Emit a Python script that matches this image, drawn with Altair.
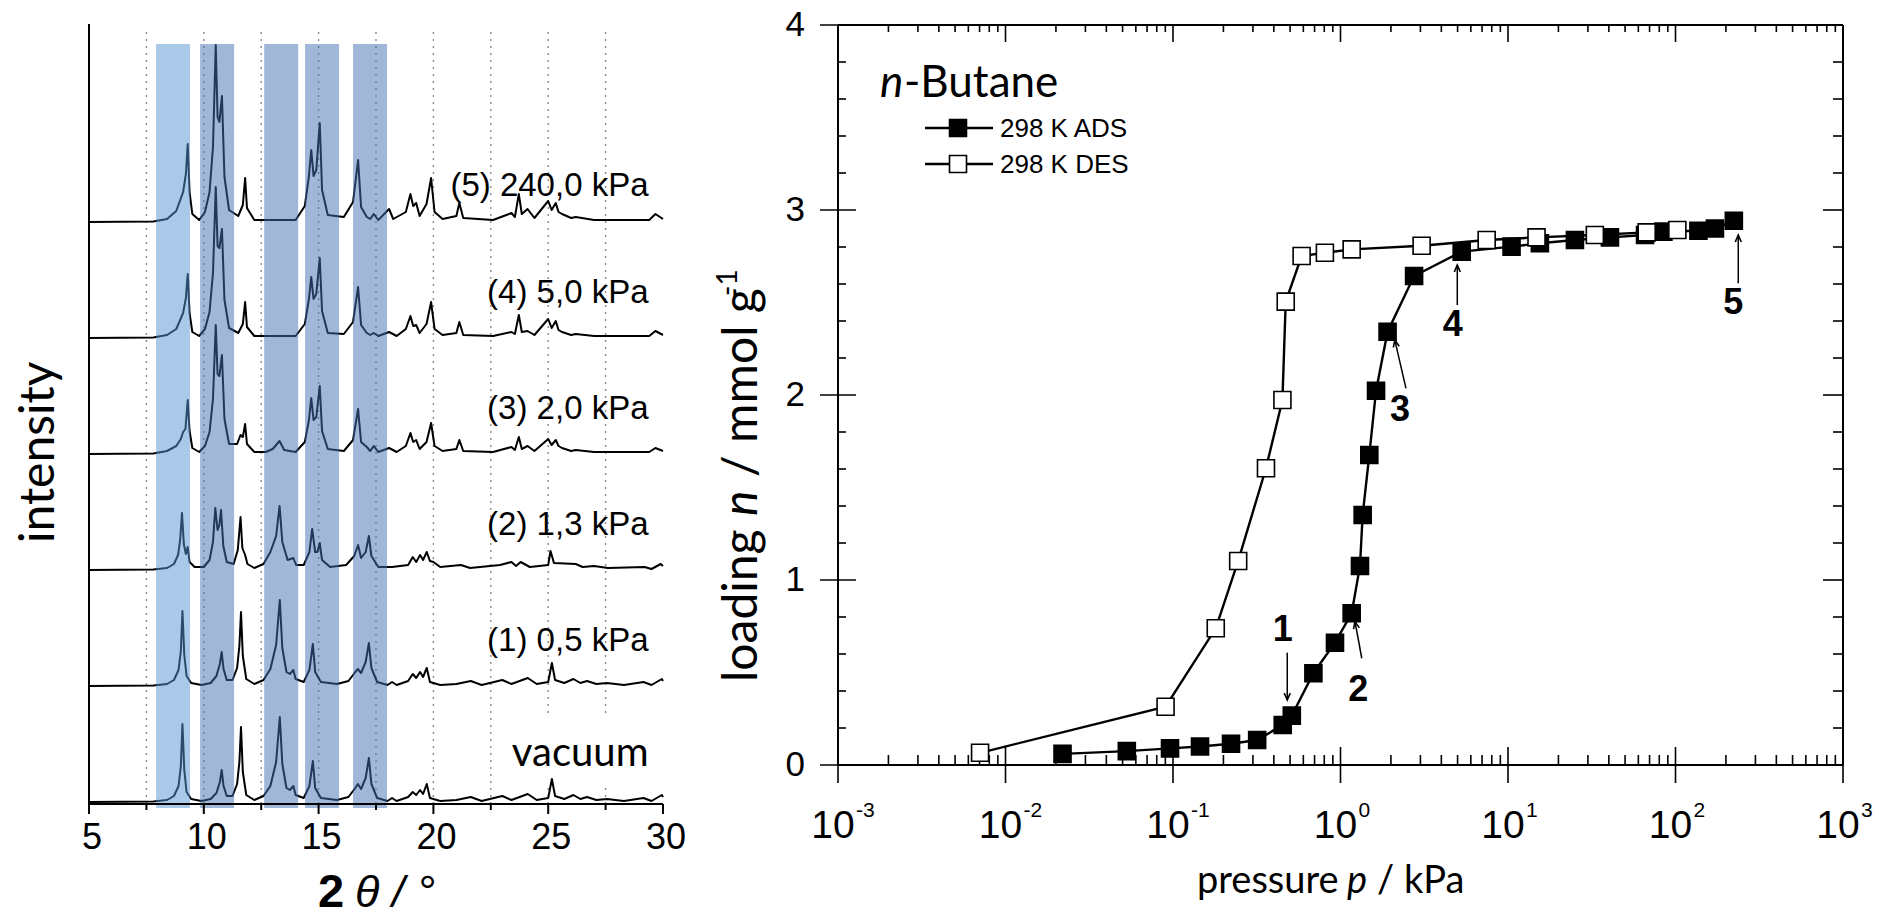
import altair as alt
import pandas as pd

# ================= Left panel: XRD patterns =================
PATTERN_NAMES = ["vacuum", "(1) 0,5 kPa", "(2) 1,3 kPa", "(3) 2,0 kPa", "(4) 5,0 kPa", "(5) 240,0 kPa"]
PATTERN_OFFSETS = [2, 118, 234, 350, 466, 582]

XRD_VACUUM = [(5.0, 0), (7.8, 0.5), (8.4, 2), (8.7, 6), (8.9, 16), (9.0, 36), (9.07, 78), (9.15, 32), (9.25, 10),
              (9.45, 3), (9.9, 1), (10.3, 3), (10.55, 9), (10.7, 20), (10.78, 32), (10.86, 16), (11.0, 6),
              (11.25, 6), (11.45, 18), (11.55, 40), (11.62, 75), (11.7, 30), (11.85, 7), (12.2, 2), (12.6, 6),
              (12.9, 16), (13.15, 40), (13.31, 85), (13.42, 38), (13.6, 14), (13.75, 12), (13.9, 16), (14.0, 7),
              (14.35, 4), (14.6, 16), (14.75, 41), (14.85, 14), (15.1, 4), (15.8, 2), (16.3, 5), (16.6, 14),
              (16.71, 18), (16.85, 13), (17.05, 24), (17.19, 44), (17.3, 18), (17.55, 4), (18.0, 1), (18.2, 4),
              (18.4, 1), (18.9, 5), (19.1, 10), (19.25, 7), (19.42, 12), (19.55, 8), (19.71, 18), (19.85, 4),
              (20.3, 1), (21.0, 2), (21.63, 5), (22.1, 1), (23.0, 6), (23.4, 2), (24.11, 8), (24.5, 2), (25.0, 4),
              (25.16, 23), (25.3, 6), (25.7, 3), (26.1, 7), (26.4, 3), (26.69, 5), (27.1, 2), (27.56, 3),
              (28.3, 1), (29.15, 4), (29.5, 1), (29.95, 7), (30.0, 5)]

XRD_P1 = [(5.0, 0), (7.8, 0.5), (8.4, 2), (8.7, 6), (8.9, 16), (9.0, 35), (9.07, 75), (9.15, 31), (9.25, 10),
          (9.45, 3), (9.9, 1), (10.3, 3), (10.55, 10), (10.7, 22), (10.78, 34), (10.86, 17), (11.0, 6),
          (11.25, 6), (11.45, 18), (11.55, 40), (11.62, 74), (11.7, 30), (11.85, 7), (12.2, 2), (12.6, 6),
          (12.9, 17), (13.15, 41), (13.31, 86), (13.42, 38), (13.6, 14), (13.75, 12), (13.9, 16), (14.0, 7),
          (14.35, 4), (14.6, 16), (14.75, 42), (14.85, 14), (15.1, 4), (15.8, 2), (16.3, 5), (16.6, 14),
          (16.71, 17), (16.85, 13), (17.05, 24), (17.19, 43), (17.3, 18), (17.55, 4), (18.0, 1), (18.2, 4),
          (18.4, 1), (18.9, 5), (19.1, 12), (19.25, 8), (19.42, 14), (19.55, 9), (19.71, 18), (19.85, 4),
          (20.3, 1), (21.0, 2), (21.63, 5), (22.1, 1), (23.0, 6), (23.4, 2), (24.11, 8), (24.5, 2), (25.0, 4),
          (25.16, 23), (25.3, 6), (25.7, 3), (26.1, 7), (26.4, 3), (26.69, 5), (27.1, 2), (27.56, 3),
          (28.3, 1), (29.15, 4), (29.5, 1), (29.95, 7), (30.0, 5)]

XRD_P2 = [(5.0, 0), (7.8, 0.5), (8.4, 2), (8.7, 6), (8.88, 15), (8.97, 30), (9.05, 57), (9.13, 26), (9.22, 16),
          (9.3, 23), (9.38, 8), (9.6, 3), (10.0, 3), (10.25, 10), (10.4, 28), (10.5, 62), (10.6, 40), (10.68, 45),
          (10.75, 60), (10.85, 24), (11.0, 8), (11.3, 6), (11.48, 20), (11.6, 53), (11.68, 22), (11.8, 15),
          (11.9, 6), (12.2, 2), (12.6, 6), (12.9, 18), (13.15, 34), (13.3, 64), (13.42, 28), (13.65, 10),
          (13.9, 12), (14.02, 5), (14.35, 5), (14.6, 18), (14.72, 41), (14.85, 18), (14.95, 18), (15.05, 27),
          (15.15, 10), (15.5, 3), (16.2, 5), (16.55, 14), (16.72, 25), (16.85, 12), (17.05, 18), (17.19, 34),
          (17.3, 14), (17.6, 3), (18.2, 3), (18.9, 5), (19.1, 13), (19.25, 8), (19.42, 15), (19.55, 10),
          (19.71, 18), (19.85, 9), (20.0, 8), (20.3, 3), (21.2, 5), (21.6, 2), (22.9, 5), (23.4, 8), (23.6, 4),
          (23.8, 8), (24.2, 3), (25.0, 5), (25.1, 19), (25.25, 7), (26.2, 6), (26.5, 3), (27.0, 4), (27.6, 2),
          (29.2, 3), (29.5, 1), (29.9, 6), (30.0, 4)]

XRD_P3 = [(5.0, 0), (7.8, 0.5), (8.4, 3), (8.8, 8), (9.0, 15), (9.1, 22), (9.2, 25), (9.3, 54), (9.38, 23),
          (9.5, 6), (9.8, 2), (10.05, 8), (10.25, 22), (10.4, 55), (10.52, 129), (10.6, 80), (10.68, 78),
          (10.79, 99), (10.9, 35), (11.1, 10), (11.45, 10), (11.6, 19), (11.7, 17), (11.8, 30), (11.88, 10),
          (12.2, 2), (12.7, 2), (13.0, 5), (13.3, 13), (13.5, 4), (14.0, 2), (14.4, 12), (14.58, 34),
          (14.68, 56), (14.78, 34), (14.9, 37), (15.05, 68), (15.15, 23), (15.4, 5), (16.1, 3), (16.5, 14),
          (16.72, 45), (16.85, 12), (17.1, 7), (17.25, 3), (17.4, 8), (17.6, 2), (18.07, 6), (18.4, 2),
          (18.8, 8), (19.0, 21), (19.12, 12), (19.25, 14), (19.4, 5), (19.7, 12), (19.9, 31), (20.05, 8),
          (20.4, 3), (21.0, 5), (21.13, 14), (21.3, 3), (22.6, 2), (23.4, 7), (23.55, 4), (23.72, 17),
          (23.85, 5), (24.1, 8), (24.4, 3), (25.0, 15), (25.15, 9), (25.33, 14), (25.45, 8), (25.6, 6),
          (26.0, 3), (26.2, 4), (27.0, 2), (28.5, 2), (29.4, 2), (29.67, 6), (30.0, 3)]

XRD_P4 = [(5.0, 0), (7.8, 0.5), (8.4, 3), (8.8, 9), (9.1, 25), (9.22, 40), (9.3, 64), (9.38, 25), (9.5, 6),
          (9.8, 2), (10.05, 9), (10.25, 26), (10.4, 65), (10.52, 151), (10.6, 92), (10.68, 90), (10.79, 109),
          (10.9, 38), (11.1, 10), (11.5, 5), (11.7, 14), (11.8, 36), (11.88, 11), (12.2, 2), (13.0, 2),
          (14.0, 2), (14.4, 14), (14.58, 39), (14.68, 61), (14.78, 39), (14.9, 44), (15.05, 80), (15.15, 27),
          (15.4, 5), (16.1, 4), (16.5, 16), (16.72, 51), (16.85, 13), (17.1, 5), (17.25, 3), (17.4, 5),
          (17.6, 2), (18.07, 6), (18.4, 2), (18.8, 9), (19.0, 22), (19.12, 12), (19.25, 13), (19.4, 5),
          (19.7, 14), (19.9, 36), (20.05, 9), (20.4, 3), (21.0, 5), (21.13, 16), (21.3, 3), (22.6, 2),
          (23.4, 6), (23.55, 4), (23.72, 23), (23.85, 6), (24.1, 7), (24.4, 3), (25.0, 19), (25.15, 10),
          (25.33, 17), (25.45, 8), (25.6, 6), (26.0, 3), (26.2, 4), (27.0, 2), (28.5, 2), (29.4, 2),
          (29.67, 7), (30.0, 3)]

XRD_P5 = [(5.0, 0), (7.8, 0.5), (8.4, 3), (8.8, 11), (9.1, 30), (9.22, 48), (9.3, 78), (9.38, 30), (9.5, 8),
          (9.8, 2), (10.05, 10), (10.25, 30), (10.4, 75), (10.52, 177), (10.6, 105), (10.68, 100),
          (10.79, 126), (10.9, 45), (11.1, 12), (11.5, 6), (11.7, 17), (11.8, 44), (11.88, 14), (12.2, 2),
          (13.0, 2), (14.0, 2), (14.4, 16), (14.58, 46), (14.68, 72), (14.78, 46), (14.9, 52), (15.05, 99),
          (15.15, 32), (15.4, 7), (16.1, 5), (16.5, 20), (16.72, 62), (16.85, 15), (17.1, 5), (17.25, 3),
          (17.4, 8), (17.6, 2), (18.07, 13), (18.25, 3), (18.8, 10), (19.0, 28), (19.12, 16), (19.25, 19),
          (19.4, 6), (19.7, 18), (19.9, 44), (20.05, 10), (20.4, 3), (21.0, 6), (21.13, 19), (21.3, 4),
          (22.6, 2), (23.4, 9), (23.55, 5), (23.72, 28), (23.85, 8), (24.1, 13), (24.4, 4), (25.0, 21),
          (25.15, 12), (25.33, 19), (25.45, 10), (25.6, 8), (26.0, 4), (26.2, 5), (27.0, 2), (28.5, 2),
          (29.4, 2), (29.67, 8), (30.0, 3)]

XRD_PATTERNS = [XRD_VACUUM, XRD_P1, XRD_P2, XRD_P3, XRD_P4, XRD_P5]

BAND_START = [7.92, 9.84, 12.63, 14.41, 16.50]
BAND_END = [9.40, 11.32, 14.11, 15.89, 17.98]
BAND_TONE = ["light", "dark", "dark", "dark", "dark"]
GRID_2THETA = [7.5, 10, 12.5, 15, 17.5, 20, 22.5, 25, 27.5]
X_MAJOR_2THETA = [5, 10, 15, 20, 25, 30]
X_MINOR_2THETA = [7.5, 12.5, 17.5, 22.5, 27.5]
X_RANGE_2THETA = [5, 30]

# ================= Right panel: n-butane isotherm =================
ADS_P = [0.0219, 0.053, 0.096, 0.145, 0.222, 0.318, 0.452, 0.512, 0.689, 0.927, 1.166, 1.307, 1.356, 1.486,
         1.63, 1.91, 2.75, 5.29, 10.5, 15.5, 25.1, 40.6, 65.8, 84.7, 137, 172, 223]
ADS_N = [0.06, 0.075, 0.09, 0.10, 0.115, 0.135, 0.216, 0.267, 0.496, 0.661, 0.82, 1.076, 1.351, 1.676,
         2.023, 2.342, 2.643, 2.775, 2.802, 2.82, 2.838, 2.852, 2.865, 2.883, 2.888, 2.90, 2.942]
DES_P = [0.00705, 0.0903, 0.180, 0.245, 0.359, 0.450, 0.471, 0.586, 0.807, 1.166, 3.05, 7.46, 14.8, 33.0,
         67.3, 102.6]
DES_N = [0.066, 0.315, 0.739, 1.103, 1.604, 1.973, 2.505, 2.751, 2.769, 2.787, 2.807, 2.838, 2.852, 2.865,
         2.879, 2.892]

ARROW_LABEL = ["1", "2", "3", "4", "5"]
ARROW_TAIL_P = [0.481, 1.34, 2.46, 4.98, 237]
ARROW_TAIL_N = [0.607, 0.577, 2.036, 2.486, 2.604]
ARROW_HEAD_P = [0.481, 1.22, 2.11, 4.98, 237]
ARROW_HEAD_N = [0.351, 0.775, 2.297, 2.703, 2.865]
NUMBER_P = [0.452, 1.276, 2.265, 4.68, 221]
NUMBER_N = [0.73, 0.405, 1.92, 2.38, 2.50]

DECADES = [0.001, 0.01, 0.1, 1, 10, 100, 1000]
DECADE_EXP = ["-3", "-2", "-1", "0", "1", "2", "3"]
LOG_MINOR = [k * 10.0 ** e for e in range(-3, 3) for k in range(2, 10)]
Y_MAJOR = [0, 1, 2, 3, 4]
Y_MAJOR_LABELS = ["0", "1", "2", "3", "4"]
Y_MINOR = [0.2, 0.4, 0.6, 0.8, 1.2, 1.4, 1.6, 1.8, 2.2, 2.4, 2.6, 2.8, 3.2, 3.4, 3.6, 3.8]

# ---------------- tables ----------------
xrd_rows = []
for name, off, pts in zip(PATTERN_NAMES, PATTERN_OFFSETS, XRD_PATTERNS):
    for t, i in pts:
        xrd_rows.append({"pattern": name, "tt": t, "y": i + off})
xrd_df = pd.DataFrame(xrd_rows)
band_df = pd.DataFrame({"b0": BAND_START, "b1": BAND_END, "tone": BAND_TONE})
lab_df = pd.DataFrame({"pattern": PATTERN_NAMES, "offset": PATTERN_OFFSETS})
xmaj_df = pd.DataFrame({"m": X_MAJOR_2THETA, "lab": [str(v) for v in X_MAJOR_2THETA]})
xrng_df = pd.DataFrame({"a": [X_RANGE_2THETA[0]], "b": [X_RANGE_2THETA[1]]})

iso_df = pd.concat([
    pd.DataFrame({"series": "ADS", "p": ADS_P, "n": ADS_N}),
    pd.DataFrame({"series": "DES", "p": DES_P, "n": DES_N}),
], ignore_index=True)
arrow_df = pd.DataFrame({"label": ARROW_LABEL, "tp": ARROW_TAIL_P, "tn": ARROW_TAIL_N,
                         "hp": ARROW_HEAD_P, "hn": ARROW_HEAD_N, "np": NUMBER_P, "nn": NUMBER_N})
dec_df = pd.DataFrame({"p": DECADES, "exp": DECADE_EXP})
lmin_df = pd.DataFrame({"p": LOG_MINOR})
ymaj_df = pd.DataFrame({"n": Y_MAJOR, "lab": Y_MAJOR_LABELS})
ymin_df = pd.DataFrame({"n": Y_MINOR})
frame_df = pd.DataFrame({"p0": [0.001], "p1": [1000], "n0": [0], "n1": [4]})


def txt(s):
    return alt.Chart(pd.DataFrame({"t": [s]}))


# ---------------- left group ----------------
xL = alt.Scale(domain=[5, 30], range=[0, 574], nice=False, zero=False)
yL = alt.Scale(domain=[0, 780], range=[780, 0], nice=False, zero=False)

grid = alt.Chart(pd.DataFrame({"g": GRID_2THETA})).mark_rule(
    color="#8a8a8a", strokeWidth=1.4, strokeDash=[2, 5]).encode(
    x=alt.X("g:Q", scale=xL, axis=None), y=alt.value(8), y2=alt.value(780))

# white label box behind "vacuum" (it interrupts the dotted guide lines)
vac_box = alt.Chart(lab_df).transform_filter("datum.pattern == 'vacuum'").transform_calculate(
    bx0="23.6", bx1="29.4", by0="datum.offset + 17", by1="datum.offset + 84").mark_rect(color="white").encode(
    x=alt.X("bx0:Q", scale=xL, axis=None), x2="bx1:Q", y=alt.Y("by0:Q", scale=yL, axis=None), y2="by1:Q")

xrd_lines = alt.Chart(xrd_df).mark_line(color="black", strokeWidth=2.0, strokeJoin="round").encode(
    x=alt.X("tt:Q", scale=xL, axis=None),
    y=alt.Y("y:Q", scale=yL, axis=None),
    detail="pattern:N")

bands = alt.Chart(band_df).mark_rect(opacity=0.5).encode(
    x=alt.X("b0:Q", scale=xL, axis=None), x2="b1:Q", y=alt.value(20), y2=alt.value(784),
    color=alt.Color("tone:N", scale=alt.Scale(domain=["light", "dark"], range=["#5591d1", "#416faf"]),
                    legend=None))

x_domain_left = alt.Chart(xrng_df).mark_rule(color="black", strokeWidth=2).encode(
    x=alt.X("a:Q", scale=xL, axis=None), x2="b:Q", y=alt.value(780))
y_domain_left = txt("axis").mark_rule(color="black", strokeWidth=2).encode(
    x=alt.value(0), y=alt.value(0), y2=alt.value(780))
major_left = alt.Chart(xmaj_df).mark_rule(color="black", strokeWidth=2).encode(
    x=alt.X("m:Q", scale=xL, axis=None), y=alt.value(780), y2=alt.value(790))
minor_left = alt.Chart(pd.DataFrame({"m": X_MINOR_2THETA})).mark_rule(color="black", strokeWidth=2).encode(
    x=alt.X("m:Q", scale=xL, axis=None), y=alt.value(780), y2=alt.value(786))
xlabels_left = alt.Chart(xmaj_df).mark_text(align="center", baseline="alphabetic", font="Liberation Sans",
                                            fontSize=36, color="black", dx=3).encode(
    x=alt.X("m:Q", scale=xL, axis=None), y=alt.value(825), text="lab:N")

pat_labels = alt.Chart(lab_df).transform_filter("datum.pattern != 'vacuum'").transform_calculate(
    lx="29.37", ly="datum.offset + (datum.pattern == '(5) 240,0 kPa' ? 36 : 45)").mark_text(
    align="right", baseline="middle", font="Liberation Sans", fontSize=33, color="black").encode(
    x=alt.X("lx:Q", scale=xL, axis=None), y=alt.Y("ly:Q", scale=yL, axis=None), text="pattern:N")

vac_label = alt.Chart(lab_df).transform_filter("datum.pattern == 'vacuum'").transform_calculate(
    lx="29.37", ly="datum.offset + 48").mark_text(
    align="right", baseline="middle", font="Lato", fontSize=40, color="black").encode(
    x=alt.X("lx:Q", scale=xL, axis=None), y=alt.Y("ly:Q", scale=yL, axis=None), text="pattern:N")

intensity_title = txt("intensity").mark_text(
    angle=270, align="left", baseline="alphabetic", font="Lato", fontSize=48, color="black").encode(
    x=alt.value(-35), y=alt.value(519), text="t:N")
two_title = txt("2").mark_text(align="left", baseline="alphabetic", font="Liberation Sans", fontSize=47,
                               fontWeight="bold", color="black").encode(
    x=alt.value(229), y=alt.value(883), text="t:N")
theta_title = txt("θ / °").mark_text(align="left", baseline="alphabetic", font="Liberation Sans", fontSize=45,
                                    fontStyle="italic", color="black").encode(
    x=alt.value(266), y=alt.value(883), text="t:N")

left = alt.layer(grid, vac_box, xrd_lines, bands, x_domain_left, y_domain_left, major_left, minor_left,
                 xlabels_left, pat_labels, vac_label, intensity_title, two_title, theta_title)

# ---------------- right group ----------------
xR = alt.Scale(type="log", domain=[0.001, 1000], range=[749, 1754], nice=False)
yR = alt.Scale(domain=[0, 4], range=[741, 1], nice=False, zero=False)

iso_lines = alt.Chart(iso_df).mark_line(color="black", strokeWidth=2.4).encode(
    x=alt.X("p:Q", scale=xR, axis=None),
    y=alt.Y("n:Q", scale=yR, axis=None),
    detail="series:N")

iso_points = alt.Chart(iso_df).mark_point(shape="square", size=289, filled=True, strokeWidth=1.6,
                                          opacity=1).encode(
    x=alt.X("p:Q", scale=xR, axis=None), y=alt.Y("n:Q", scale=yR, axis=None),
    fill=alt.Fill("series:N", scale=alt.Scale(domain=["ADS", "DES"], range=["black", "white"]), legend=None),
    stroke=alt.value("black"))


def xtick(df, y0, y1):
    return alt.Chart(df).mark_rule(color="black", strokeWidth=1.6).encode(
        x=alt.X("p:Q", scale=xR, axis=None), y=alt.value(y0), y2=alt.value(y1))


def ytick(df, x0, x1):
    return alt.Chart(df).mark_rule(color="black", strokeWidth=1.6).encode(
        y=alt.Y("n:Q", scale=yR, axis=None), x=alt.value(x0), x2=alt.value(x1))


ticks = [xtick(dec_df, 723, 759), xtick(lmin_df, 731, 741), xtick(dec_df, 1, 18), xtick(lmin_df, 1, 8),
         ytick(ymaj_df, 731, 767), ytick(ymin_df, 749, 757), ytick(ymaj_df, 1734, 1754),
         ytick(ymin_df, 1744, 1754)]

frame_lines = [
    alt.Chart(frame_df).mark_rule(color="black", strokeWidth=2).encode(
        x=alt.X("p0:Q", scale=xR, axis=None), x2="p1:Q", y=alt.Y("n1:Q", scale=yR, axis=None)),
    alt.Chart(frame_df).mark_rule(color="black", strokeWidth=2).encode(
        x=alt.X("p0:Q", scale=xR, axis=None), x2="p1:Q", y=alt.Y("n0:Q", scale=yR, axis=None)),
    alt.Chart(frame_df).mark_rule(color="black", strokeWidth=2).encode(
        x=alt.X("p1:Q", scale=xR, axis=None), y=alt.Y("n0:Q", scale=yR, axis=None), y2="n1:Q"),
    alt.Chart(frame_df).mark_rule(color="black", strokeWidth=2).encode(
        x=alt.X("p0:Q", scale=xR, axis=None), y=alt.Y("n0:Q", scale=yR, axis=None), y2="n1:Q"),
]

ten_labels = alt.Chart(dec_df).mark_text(align="center", baseline="alphabetic", font="Liberation Sans",
                                         fontSize=39, dx=-5, color="black").encode(
    x=alt.X("p:Q", scale=xR, axis=None), y=alt.value(814), text=alt.value("10"))
exponents = alt.Chart(dec_df).mark_text(align="left", baseline="alphabetic", font="Liberation Sans",
                                        fontSize=21, dx=18, color="black").encode(
    x=alt.X("p:Q", scale=xR, axis=None), y=alt.value(793), text="exp:N")
ylabels_right = alt.Chart(ymaj_df).mark_text(align="right", baseline="middle", font="Liberation Sans",
                                             fontSize=35, color="black").encode(
    y=alt.Y("n:Q", scale=yR, axis=None), x=alt.value(716), text="lab:N")

arrow_shafts = alt.Chart(arrow_df).mark_rule(color="black", strokeWidth=1.5).encode(
    x=alt.X("tp:Q", scale=xR, axis=None), x2="hp:Q", y=alt.Y("tn:Q", scale=yR, axis=None), y2="hn:Q")


def heads(expr, ang):
    return alt.Chart(arrow_df).transform_filter(expr).mark_point(
        shape="M-0.6,1.4L0,0L0.6,1.4", size=100, filled=False, strokeWidth=1.6, color="black",
        opacity=1, angle=ang).encode(
        x=alt.X("hp:Q", scale=xR, axis=None), y=alt.Y("hn:Q", scale=yR, axis=None))


arrow_heads = [heads("datum.label == '1'", 180), heads("datum.label == '2' || datum.label == '3'", 348),
               heads("datum.label == '4' || datum.label == '5'", 0)]

numbers = alt.Chart(arrow_df).mark_text(align="center", baseline="middle",
                                        font="Liberation Sans Narrow, Liberation Sans", fontSize=36,
                                        fontWeight="bold", color="black").encode(
    x=alt.X("np:Q", scale=xR, axis=None), y=alt.Y("nn:Q", scale=yR, axis=None), text="label:N")

# legend (drawn by hand, as in the original figure)
leg = []
for lab, yy, fc in [("298 K ADS", 104, "black"), ("298 K DES", 140, "white")]:
    leg.append(txt(lab).mark_rule(color="black", strokeWidth=2.4).encode(
        x=alt.value(836), x2=alt.value(904), y=alt.value(yy)))
    leg.append(txt(lab).mark_point(shape="square", size=289, filled=True, fill=fc, stroke="black",
                                   strokeWidth=1.6, opacity=1).encode(x=alt.value(869), y=alt.value(yy)))
    leg.append(txt(lab).mark_text(align="left", baseline="middle", font="Liberation Sans", fontSize=26,
                                  color="black").encode(x=alt.value(911), y=alt.value(yy + 1), text="t:N"))

butane_n = txt("n").mark_text(align="left", baseline="alphabetic", font="Lato", fontSize=44,
                              fontStyle="italic", color="black").encode(x=alt.value(791), y=alt.value(73),
                                                                        text="t:N")
butane_rest = txt("-Butane").mark_text(align="left", baseline="alphabetic", font="Lato", fontSize=44,
                                       color="black").encode(x=alt.value(815), y=alt.value(73), text="t:N")

px1 = txt("pressure").mark_text(align="left", baseline="alphabetic", font="Lato", fontSize=38,
                                color="black").encode(x=alt.value(1108), y=alt.value(869), text="t:N")
px2 = txt("p").mark_text(align="left", baseline="alphabetic", font="Lato", fontSize=38, fontStyle="italic",
                         color="black").encode(x=alt.value(1258), y=alt.value(869), text="t:N")
px3 = txt("/ kPa").mark_text(align="left", baseline="alphabetic", font="Lato", fontSize=38,
                             color="black").encode(x=alt.value(1288), y=alt.value(869), text="t:N")

ly1 = txt("loading").mark_text(angle=270, align="left", baseline="alphabetic", font="Lato", fontSize=48,
                               color="black").encode(x=alt.value(668), y=alt.value(658), text="t:N")
ly2 = txt("n").mark_text(angle=270, align="left", baseline="alphabetic", font="Lato", fontSize=48,
                         fontStyle="italic", color="black").encode(x=alt.value(668), y=alt.value(492),
                                                                   text="t:N")
ly3 = txt("/ mmol g").mark_text(angle=270, align="left", baseline="alphabetic", font="Lato", fontSize=48,
                                color="black").encode(x=alt.value(668), y=alt.value(453), text="t:N")
ly4 = txt("-1").mark_text(angle=270, align="left", baseline="alphabetic", font="Lato", fontSize=28,
                          color="black").encode(x=alt.value(648), y=alt.value(272), text="t:N")

right = alt.layer(iso_lines, *ticks, *frame_lines, ten_labels, exponents, ylabels_right, arrow_shafts,
                  *arrow_heads, iso_points, numbers, *leg, butane_n, butane_rest, px1, px2, px3,
                  ly1, ly2, ly3, ly4)

chart = alt.layer(left, right).resolve_scale(x="independent", y="independent").properties(
    width=1754, height=780,
    padding={"left": 89, "top": 24, "right": 36, "bottom": 116},
    autosize=alt.AutoSizeParams(type="none"),
).configure_view(stroke=None)

chart.save("out.html", embed_options={"renderer": "svg", "actions": False})
